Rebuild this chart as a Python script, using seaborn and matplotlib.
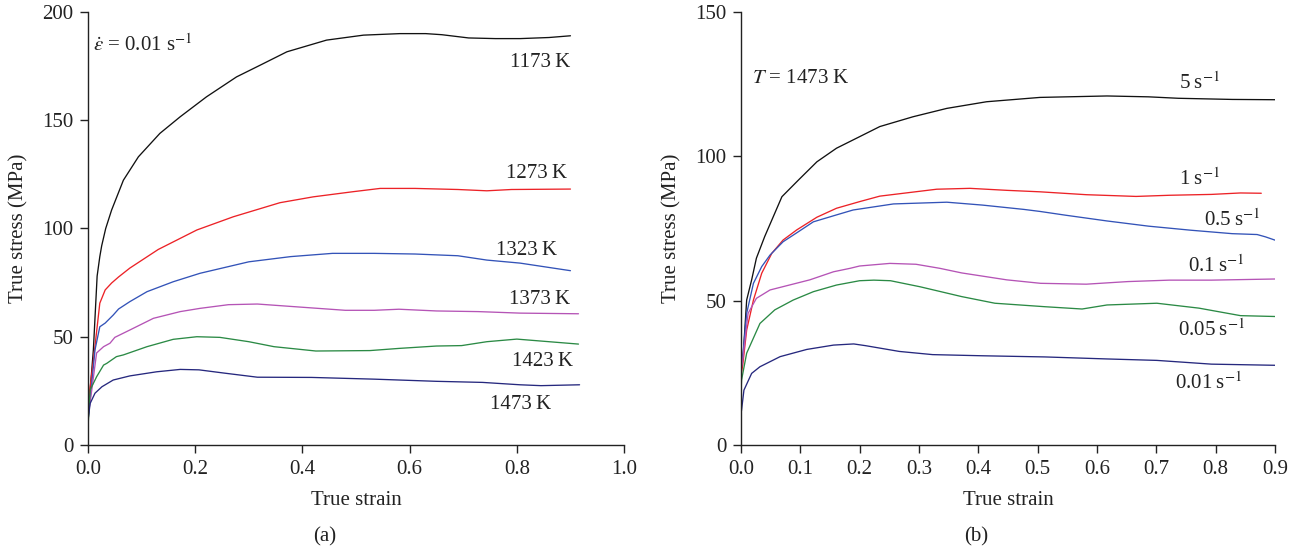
import numpy as np
import pandas as pd
import matplotlib
matplotlib.use("Agg")
import matplotlib.pyplot as plt
import seaborn as sns

# ---------------- (a) strain rate 0.01 s^-1, varying temperature ----------------
temps_a = ["1173 K", "1273 K", "1323 K", "1373 K", "1423 K", "1473 K"]
colors_a = ["#111111", "#ec2227", "#3353b8", "#b554b6", "#2b8a45", "#26287e"]

strain_1173 = [0, 0.002, 0.01, 0.017, 0.022, 0.0255, 0.033, 0.044, 0.066, 0.094, 0.134, 0.172,
               0.221, 0.277, 0.321, 0.371, 0.445, 0.514, 0.582, 0.63, 0.66, 0.71, 0.76, 0.806,
               0.86, 0.90]
stress_1173 = [10, 19, 44, 78, 87, 92, 100, 108.5, 122.3, 133.1, 143.9, 151.6,
               160.8, 170, 175.4, 181.6, 187, 189.3, 190, 190, 189.5, 188, 187.7, 187.7,
               188.2, 189]

strain_1273 = [0, 0.01, 0.022, 0.032, 0.044, 0.057, 0.078, 0.131, 0.203, 0.271,
               0.358, 0.42, 0.495, 0.545, 0.61, 0.69, 0.744, 0.79, 0.90]
stress_1273 = [19, 39, 65.5, 71.6, 74.8, 77.6, 81.7, 90.3, 99.3, 105.4,
               111.9, 114.6, 117, 118.5, 118.5, 118, 117.4, 118, 118.2]

strain_1323 = [0, 0.004, 0.013, 0.022, 0.032, 0.047, 0.057, 0.078, 0.11, 0.159, 0.209,
               0.30, 0.378, 0.456, 0.534, 0.61, 0.69, 0.744, 0.806, 0.90]
stress_1323 = [13, 20.8, 43.9, 54.6, 56.3, 60, 62.8, 66.2, 70.8, 75.4, 79.3,
               84.6, 87, 88.5, 88.5, 88.2, 87.4, 85.4, 84, 80.5]

strain_1373 = [0, 0.007, 0.016, 0.029, 0.041, 0.05, 0.078, 0.122, 0.172, 0.209, 0.262,
               0.316, 0.378, 0.48, 0.534, 0.58, 0.65, 0.728, 0.806, 0.915]
stress_1373 = [13, 25.4, 42.5, 45.4, 47, 49.7, 53.1, 58.5, 61.6, 63.1, 64.8,
               65.1, 64, 62.2, 62.2, 62.7, 61.9, 61.6, 60.9, 60.6]

strain_1423 = [0, 0.004, 0.016, 0.029, 0.035, 0.053, 0.066, 0.11, 0.159, 0.203, 0.246,
               0.30, 0.347, 0.425, 0.526, 0.58, 0.65, 0.697, 0.744, 0.80, 0.845, 0.915]
stress_1423 = [8.4, 25.4, 31.5, 36.9, 37.7, 40.8, 41.6, 45.4, 48.8, 50, 49.7,
               47.7, 45.4, 43.4, 43.6, 44.6, 45.7, 45.9, 47.7, 48.9, 48, 46.6]

strain_1473 = [0, 0.004, 0.013, 0.026, 0.047, 0.078, 0.128, 0.172, 0.207, 0.254, 0.316,
               0.417, 0.534, 0.65, 0.736, 0.806, 0.845, 0.917]
stress_1473 = [11.5, 19.2, 23.9, 26.9, 30, 31.9, 33.8, 34.9, 34.7, 33.2, 31.3,
               31.2, 30.4, 29.4, 28.9, 27.8, 27.4, 27.8]

# label placement (x of right edge, y of baseline)
label_x_a = [0.90, 0.893, 0.874, 0.899, 0.905, 0.864]
label_y_a = [174.6, 123.5, 87.7, 65.3, 36.5, 16.7]

# ---------------- (b) T = 1473 K, varying strain rate ----------------
rates_b = ["5", "1", "0.5", "0.1", "0.05", "0.01"]
colors_b = ["#111111", "#ec2227", "#3353b8", "#b554b6", "#2b8a45", "#26287e"]

strain_r5 = [0, 0.004, 0.0096, 0.018, 0.026, 0.040, 0.069, 0.097, 0.128, 0.161, 0.2,
             0.234, 0.29, 0.347, 0.414, 0.504, 0.617, 0.687, 0.737, 0.828, 0.9]
stress_r5 = [28, 31.8, 50.2, 57.2, 64.7, 72.2, 86, 91.8, 98.1, 102.8, 106.8,
             110.3, 113.7, 116.6, 118.9, 120.4, 120.9, 120.6, 120.1, 119.7, 119.6]

strain_r1 = [0, 0.003, 0.0096, 0.021, 0.035, 0.052, 0.071, 0.094, 0.128, 0.161, 0.2,
             0.234, 0.33, 0.386, 0.449, 0.504, 0.582, 0.666, 0.722, 0.793, 0.842, 0.877]
stress_r1 = [24, 27.7, 39.8, 50.2, 59.5, 66.4, 71, 74.5, 78.9, 82, 84.3,
             86.2, 88.6, 88.9, 88.2, 87.7, 86.7, 86.1, 86.5, 86.8, 87.3, 87.2]

strain_r05 = [0, 0.003, 0.0096, 0.021, 0.035, 0.049, 0.071, 0.097, 0.122, 0.161, 0.189,
              0.257, 0.302, 0.347, 0.407, 0.477, 0.504, 0.547, 0.617, 0.687, 0.758, 0.828,
              0.87, 0.884, 0.901]
stress_r05 = [26, 30.8, 45.6, 56, 61.8, 65.8, 70.4, 73.9, 77.3, 79.7, 81.4,
              83.5, 83.8, 84.1, 83.1, 81.6, 80.9, 79.6, 77.6, 75.8, 74.4, 73.2,
              72.9, 72.1, 70.9]

strain_r01 = [0, 0.003, 0.012, 0.026, 0.049, 0.116, 0.156, 0.184, 0.2, 0.251, 0.295, 0.335,
              0.372, 0.448, 0.505, 0.582, 0.652, 0.722, 0.793, 0.901]
stress_r01 = [26, 29.6, 45.6, 50.8, 53.7, 57.2, 60, 61.2, 62, 62.9, 62.6, 61.2,
              59.6, 57.2, 56, 55.7, 56.6, 57.1, 57.1, 57.5]

strain_r005 = [0, 0.001, 0.0096, 0.032, 0.057, 0.088, 0.122, 0.161, 0.2, 0.224, 0.252,
               0.302, 0.372, 0.428, 0.512, 0.575, 0.617, 0.701, 0.772, 0.842, 0.901]
stress_r005 = [18, 22.5, 31.8, 42.1, 46.8, 50.2, 53.1, 55.4, 56.9, 57.1, 56.9,
               54.8, 51.4, 49.1, 47.9, 47.1, 48.5, 49.1, 47.4, 44.8, 44.5]

strain_r001 = [0, 0.001, 0.005, 0.018, 0.032, 0.066, 0.111, 0.156, 0.19, 0.21, 0.267,
               0.323, 0.407, 0.512, 0.617, 0.701, 0.793, 0.901]
stress_r001 = [11, 12.1, 19, 24.8, 27.1, 30.6, 33.1, 34.6, 35, 34.4, 32.4,
               31.3, 30.9, 30.5, 29.8, 29.3, 28, 27.6]

label_x_b = [0.808, 0.808, 0.875, 0.849, 0.849, 0.845]
label_y_b = [123.4, 90.2, 75.8, 59.9, 37.6, 19.4]

# ---------------- long-form tables ----------------
curves_a = [(strain_1173, stress_1173), (strain_1273, stress_1273), (strain_1323, stress_1323),
            (strain_1373, stress_1373), (strain_1423, stress_1423), (strain_1473, stress_1473)]
curves_b = [(strain_r5, stress_r5), (strain_r1, stress_r1), (strain_r05, stress_r05),
            (strain_r01, stress_r01), (strain_r005, stress_r005), (strain_r001, stress_r001)]


def long_table(names, curves):
    frames = []
    for name, (xs, ys) in zip(names, curves):
        frames.append(pd.DataFrame({"strain": xs, "stress": ys, "curve": name}))
    return pd.concat(frames, ignore_index=True)


df_a = long_table(temps_a, curves_a)
df_b = long_table(rates_b, curves_b)

# ---------------- style ----------------
sns.set_theme(style="ticks")
plt.rcParams["font.family"] = ["Liberation Serif", "DejaVu Serif"]
plt.rcParams["mathtext.fontset"] = "stix"
FS = 15
plt.rcParams.update({
    "axes.edgecolor": "#222222",
    "axes.linewidth": 1.0,
    "xtick.color": "#222222",
    "ytick.color": "#222222",
    "xtick.major.size": 5.5,
    "ytick.major.size": 5.5,
    "xtick.major.width": 1.0,
    "ytick.major.width": 1.0,
    "xtick.labelsize": FS,
    "ytick.labelsize": FS,
    "axes.labelsize": FS,
    "text.color": "#222222",
    "axes.labelcolor": "#222222",
})

fig = plt.figure(figsize=(13.02, 5.54), dpi=100)
ax_a = fig.add_axes([0.0676, 0.1968, 0.4117, 0.7816])
ax_b = fig.add_axes([0.5691, 0.1968, 0.4101, 0.7816])

sns.lineplot(data=df_a, x="strain", y="stress", hue="curve", hue_order=temps_a,
             palette=colors_a, estimator=None, sort=False, linewidth=0.95,
             legend=False, ax=ax_a)
sns.lineplot(data=df_b, x="strain", y="stress", hue="curve", hue_order=rates_b,
             palette=colors_b, estimator=None, sort=False, linewidth=0.95,
             legend=False, ax=ax_b)

# panel (a) axes
ax_a.set_xlim(0, 1.0)
ax_a.set_ylim(0, 200)
ax_a.set_xticks(np.arange(0, 1.01, 0.2))
ax_a.set_xticklabels([f"{v:.1f}" for v in np.arange(0, 1.01, 0.2)])
ax_a.set_yticks([0, 50, 100, 150, 200])

# panel (b) axes
ax_b.set_xlim(0, 0.9)
ax_b.set_ylim(0, 150)
ax_b.set_xticks(np.arange(0, 0.91, 0.1))
ax_b.set_xticklabels([f"{v:.1f}" for v in np.arange(0, 0.91, 0.1)])
ax_b.set_yticks([0, 50, 100, 150])

for ax in (ax_a, ax_b):
    sns.despine(ax=ax)
    ax.set_xlabel("True strain", labelpad=9)
    ax.set_ylabel("True stress (MPa)", labelpad=10)
    ax.tick_params(axis="both", pad=5)

# curve labels
for name, lx, ly in zip(temps_a, label_x_a, label_y_a):
    ax_a.text(lx, ly, name.replace(" ", "\u2009"), ha="right", va="baseline", fontsize=FS)
for rate, lx, ly in zip(rates_b, label_x_b, label_y_b):
    ax_b.text(lx, ly, rate + "\u2009s$^{-1}$", ha="right", va="baseline", fontsize=FS)

ax_a.text(0.009, 182, r"$\dot{\varepsilon}$ = 0.01 s$^{-1}$", ha="left", va="baseline", fontsize=FS)
ax_b.text(0.018, 125.4, r"$T$ = 1473 K", ha="left", va="baseline", fontsize=FS)

fig.text(0.2496, 0.031, "(a)", ha="center", va="center", fontsize=FS)
fig.text(0.7496, 0.031, "(b)", ha="center", va="center", fontsize=FS)

fig.savefig("out.png", dpi=100)
